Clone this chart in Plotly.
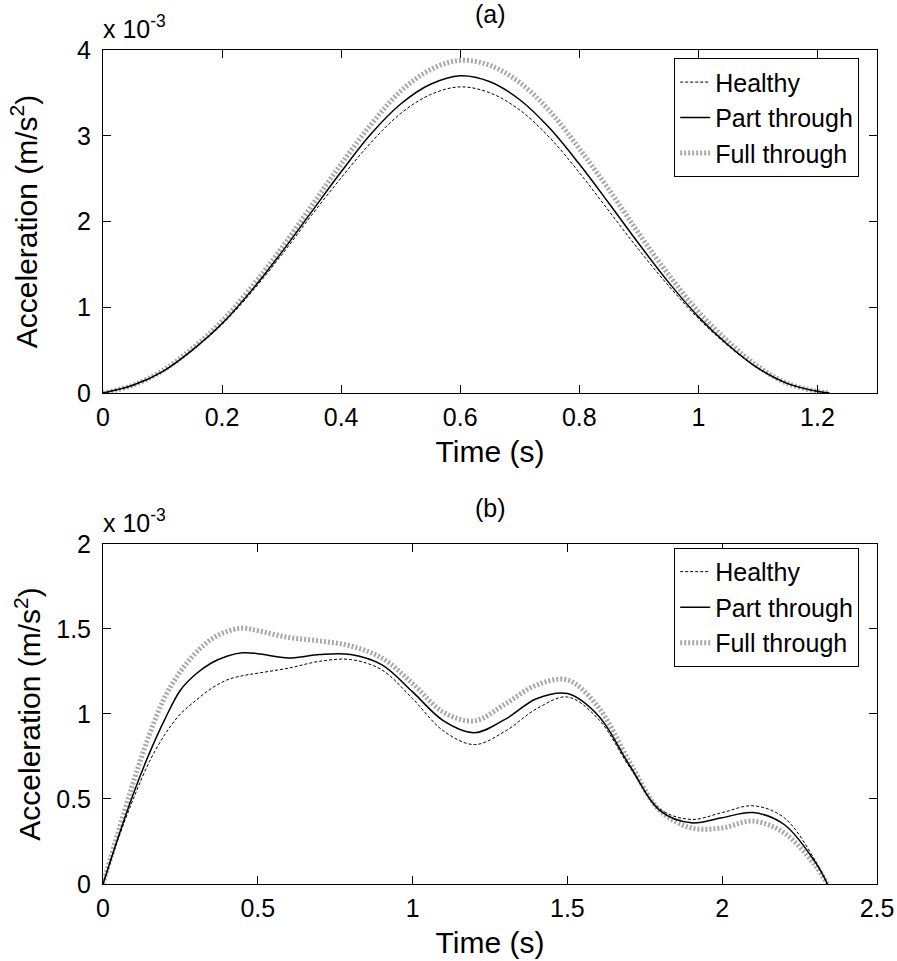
import plotly.graph_objects as go
from plotly.subplots import make_subplots

# ---- Panel (a) data (acceleration in units of 1e-3 m/s^2) ----
time_a = [0, 0.05, 0.1, 0.15, 0.2, 0.25, 0.3, 0.35, 0.4, 0.45, 0.5, 0.55, 0.6,
          0.65, 0.7, 0.75, 0.8, 0.85, 0.9, 0.95, 1.0, 1.05, 1.1, 1.15, 1.2, 1.22]
healthy_a = [0, 0.09, 0.25, 0.5, 0.80, 1.18, 1.61, 2.07, 2.51, 2.92, 3.26, 3.48, 3.57,
             3.50, 3.30, 2.98, 2.57, 2.12, 1.67, 1.25, 0.87, 0.55, 0.29, 0.11, 0.02, 0.0]
part_a = [0, 0.09, 0.25, 0.5, 0.81, 1.20, 1.64, 2.11, 2.58, 3.02, 3.37, 3.60, 3.70,
          3.63, 3.42, 3.09, 2.67, 2.21, 1.74, 1.29, 0.89, 0.56, 0.29, 0.11, 0.02, 0.0]
full_a = [0, 0.09, 0.26, 0.52, 0.84, 1.24, 1.69, 2.18, 2.67, 3.13, 3.52, 3.77, 3.88,
          3.82, 3.62, 3.29, 2.85, 2.37, 1.86, 1.38, 0.95, 0.60, 0.31, 0.11, 0.02, 0.0]

# ---- Panel (b) data ----
time_b = [0, 0.05, 0.1, 0.15, 0.2, 0.25, 0.3, 0.35, 0.4, 0.45, 0.5, 0.6, 0.7, 0.8, 0.9,
          1.0, 1.1, 1.2, 1.3, 1.4, 1.5, 1.6, 1.7, 1.8, 1.9, 2.0, 2.1, 2.2, 2.3, 2.34]
healthy_b = [0, 0.27, 0.51, 0.72, 0.88, 1.00, 1.08, 1.15, 1.20, 1.225, 1.24, 1.27, 1.31,
             1.32, 1.26, 1.09, 0.90, 0.82, 0.90, 1.03, 1.10, 0.97, 0.69, 0.44, 0.38,
             0.42, 0.46, 0.39, 0.14, 0.0]
part_b = [0, 0.28, 0.54, 0.77, 0.97, 1.14, 1.235, 1.30, 1.34, 1.36, 1.355, 1.33, 1.35,
          1.35, 1.29, 1.13, 0.96, 0.89, 0.97, 1.09, 1.12, 0.99, 0.70, 0.43, 0.36,
          0.39, 0.42, 0.35, 0.13, 0.0]
full_b = [0, 0.31, 0.61, 0.88, 1.10, 1.25, 1.36, 1.44, 1.485, 1.505, 1.49, 1.45, 1.43,
          1.40, 1.33, 1.18, 1.01, 0.96, 1.06, 1.17, 1.20, 1.04, 0.72, 0.43, 0.33,
          0.33, 0.37, 0.30, 0.11, 0.0]

series_names = ["Healthy", "Part through", "Full through"]
xticks_a = [0, 0.2, 0.4, 0.6, 0.8, 1, 1.2]
xticklabels_a = ["0", "0.2", "0.4", "0.6", "0.8", "1", "1.2"]
yticks_a = [0, 1, 2, 3, 4]
yticklabels_a = ["0", "1", "2", "3", "4"]
xticks_b = [0, 0.5, 1, 1.5, 2, 2.5]
xticklabels_b = ["0", "0.5", "1", "1.5", "2", "2.5"]
yticks_b = [0, 0.5, 1, 1.5, 2]
yticklabels_b = ["0", "0.5", "1", "1.5", "2"]

FONT = "Liberation Sans, Arial, sans-serif"
TICK = 25
TITLE = 30
styles = [
    dict(color="black", width=1, dash="3px,2px"),
    dict(color="black", width=1.5, dash="solid"),
    dict(color="#a8a8a8", width=5, dash="2px,2px"),
]

fig = make_subplots(rows=2, cols=1)

# draw Full first (underneath), then Part, then Healthy
order = [2, 1, 0]
data_a = [healthy_a, part_a, full_a]
data_b = [healthy_b, part_b, full_b]
for i in order:
    fig.add_trace(go.Scatter(x=time_a, y=data_a[i], mode="lines", name=series_names[i],
                             line=dict(shape="spline", smoothing=1.0, **styles[i]),
                             legend="legend"), row=1, col=1)
for i in order:
    fig.add_trace(go.Scatter(x=time_b, y=data_b[i], mode="lines", name=series_names[i],
                             line=dict(shape="spline", smoothing=1.0, **styles[i]),
                             legend="legend2"), row=2, col=1)

axis_common = dict(showline=True, linecolor="black", linewidth=1, mirror="ticks",
                   ticks="inside", ticklen=8, tickcolor="black", showgrid=False,
                   zeroline=False, automargin=False,
                   tickfont=dict(family=FONT, size=TICK, color="black"))

fig.update_xaxes(range=[0, 1.3], tickvals=xticks_a, ticktext=xticklabels_a,
                 domain=[0, 1], ticklabelstandoff=2,
                 title=dict(text="Time (s)", font=dict(family=FONT, size=TITLE), standoff=10),
                 row=1, col=1, **axis_common)
fig.update_yaxes(range=[0, 4], tickvals=yticks_a, ticktext=yticklabels_a,
                 domain=[0.5887, 1.0], ticklabelstandoff=6,
                 title=dict(text="Acceleration (m/s<sup>2</sup>)", font=dict(family=FONT, size=TITLE), standoff=30),
                 row=1, col=1, **axis_common)
fig.update_xaxes(range=[0, 2.5], tickvals=xticks_b, ticktext=xticklabels_b,
                 domain=[0, 1], ticklabelstandoff=2,
                 title=dict(text="Time (s)", font=dict(family=FONT, size=TITLE), standoff=10),
                 row=2, col=1, **axis_common)
fig.update_yaxes(range=[0, 2], tickvals=yticks_b, ticktext=yticklabels_b,
                 domain=[0, 0.4077], ticklabelstandoff=6,
                 title=dict(text="Acceleration (m/s<sup>2</sup>)", font=dict(family=FONT, size=TITLE), standoff=6),
                 row=2, col=1, **axis_common)

legend_common = dict(bgcolor="white", bordercolor="black", borderwidth=1,
                     font=dict(family=FONT, size=25, color="black"),
                     xanchor="right", yanchor="top", traceorder="reversed",
                     tracegroupgap=0)

fig.update_layout(
    width=897, height=961,
    margin=dict(l=103, r=20, t=50, b=77, autoexpand=False),
    paper_bgcolor="white", plot_bgcolor="white",
    font=dict(family=FONT, size=TICK, color="black"),
    showlegend=True,
    legend=dict(x=0.977, y=0.99, **legend_common),
    legend2=dict(x=0.977, y=0.403, **legend_common),
    annotations=[
        dict(text="(a)", xref="paper", yref="paper", x=0.5, y=1.0, yshift=20,
             showarrow=False, xanchor="center", yanchor="bottom", font=dict(family=FONT, size=TICK)),
        dict(text="(b)", xref="paper", yref="paper", x=0.5, y=0.4077, yshift=20,
             showarrow=False, xanchor="center", yanchor="bottom", font=dict(family=FONT, size=TICK)),
        dict(text="x 10<sup>-3</sup>", xref="paper", yref="paper", x=0, y=1.0, yshift=5, xshift=-2,
             showarrow=False, xanchor="left", yanchor="bottom", font=dict(family=FONT, size=TICK)),
        dict(text="x 10<sup>-3</sup>", xref="paper", yref="paper", x=0, y=0.4077, yshift=5, xshift=-2,
             showarrow=False, xanchor="left", yanchor="bottom", font=dict(family=FONT, size=TICK)),
    ],
)

fig.write_html("out.html", config={"displayModeBar": False},
               post_script="document.body.style.margin='0';document.body.style.overflow='hidden';")
